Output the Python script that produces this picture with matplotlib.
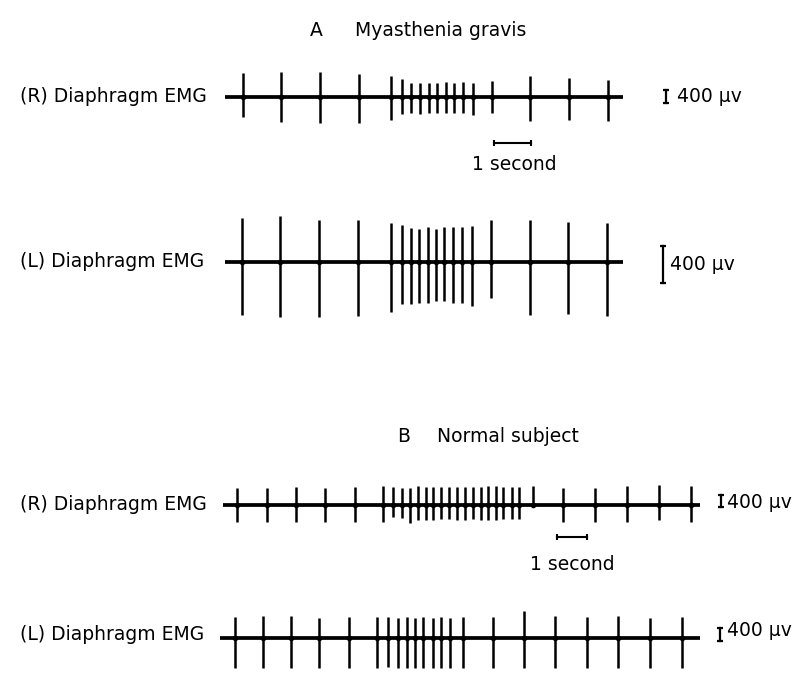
import matplotlib
matplotlib.use("Agg")
import matplotlib.pyplot as plt

# -------------------------------
# DATA (spike times in s, deflections in microvolts)
# -------------------------------
a_r_times = [0.48, 1.51, 2.57, 3.63, 4.49, 4.79, 5.03, 5.27, 5.51, 5.74, 5.97, 6.19,
             6.42, 6.69, 7.21, 8.24, 9.31, 10.34]
a_r_up = [740, 770, 770, 700, 640, 535, 410, 410, 410, 430, 465, 410, 465, 410, 495,
          640, 565, 515]
a_r_down = [620, 770, 820, 800, 720, 535, 515, 535, 495, 495, 515, 495, 515, 565, 515,
            740, 720, 750]

a_l_times = [0.45, 1.49, 2.54, 3.60, 4.48, 4.78, 5.02, 5.25, 5.49, 5.70, 5.93, 6.17,
             6.41, 6.68, 7.18, 8.24, 9.28, 10.33]
a_l_up = [470, 495, 450, 450, 420, 395, 360, 350, 370, 350, 380, 370, 380, 385, 450,
          455, 430, 420]
a_l_down = [575, 595, 595, 585, 540, 455, 455, 450, 445, 430, 430, 445, 450, 480, 395,
            575, 560, 585]

b_r_times = [0.46, 1.46, 2.43, 3.40, 4.40, 5.34, 5.68, 5.96, 6.23, 6.51, 6.76, 7.01,
             7.27, 7.54, 7.79, 8.07, 8.32, 8.59, 8.84, 9.10, 9.34, 9.62, 9.87, 10.34,
             11.34, 12.40, 13.46, 14.54, 15.60]
b_r_up = [555, 575, 610, 575, 610, 645, 610, 575, 555, 645, 610, 610, 610, 610, 610,
          610, 610, 610, 645, 645, 610, 610, 610, 645, 555, 555, 645, 665, 645]
b_r_down = [555, 555, 575, 575, 575, 575, 390, 445, 610, 500, 500, 500, 465, 465, 500,
            500, 465, 500, 500, 500, 465, 465, 465, 60, 555, 555, 555, 500, 555]

b_l_times = [0.50, 1.42, 2.37, 3.31, 4.31, 5.24, 5.61, 5.92, 6.22, 6.50, 6.78, 7.09,
             7.37, 7.67, 8.09, 9.11, 10.13, 11.17, 12.22, 13.28, 14.33, 15.39]
b_l_up = [650, 690, 690, 620, 670, 670, 670, 640, 650, 640, 650, 640, 650, 640, 650,
          670, 825, 690, 650, 690, 620, 670]
b_l_down = [920, 920, 920, 920, 920, 920, 880, 900, 900, 900, 900, 900, 900, 900, 920,
            920, 900, 920, 920, 920, 920, 920]

scale_uv = 400
scale_s = 1

# -------------------------------
# FIGURE SETUP (pixel layout)
# -------------------------------
W, H = 795, 673
fig = plt.figure(figsize=(7.95, 6.73), dpi=100)
plt.rcParams['font.family'] = ['DejaVu Sans']
FS = 13.5


def fx(px):
    return px / W


def fy(py):
    return 1 - py / H


def trace_axes(x0, y_base, px_per_s, uv_per_px, t_end, half=70):
    ax = fig.add_axes([fx(x0), fy(y_base + half), t_end * px_per_s / W, 2 * half / H])
    ax.set_xlim(0, t_end)
    ax.set_ylim(-half * uv_per_px, half * uv_per_px)
    ax.axis("off")
    return ax


def draw_trace(ax, times, up, down, t_end):
    ax.plot([0, t_end], [0, 0], color="black", lw=2.7, solid_capstyle="round")
    ax.vlines(times, [-d for d in down], up, color="black", lw=1.8)
    # slight thickening where each spike crosses the baseline
    ax.plot(times, [0] * len(times), "o", color="black", markersize=3)


def scale_bar(ax, t, bottom):
    ax.plot([t, t], [bottom, bottom + scale_uv], color="black", lw=1.6, clip_on=False,
            marker="_", markersize=5, markeredgewidth=1.6)


def time_bar(ax, t, y):
    ax.plot([t, t + scale_s], [y, y], color="black", lw=1.5, clip_on=False,
            marker="|", markersize=4, markeredgewidth=1.5)


# -------------------------------
# PANEL A
# -------------------------------
fig.text(fx(310), fy(30), "A", fontsize=FS, va="center")
fig.text(fx(355), fy(30), "Myasthenia gravis", fontsize=FS, va="center")

ax = trace_axes(225, 96.7, 37, 400 / 13, 10.76)
draw_trace(ax, a_r_times, a_r_up, a_r_down, 10.76)
scale_bar(ax, 11.92, -200)
time_bar(ax, 7.27, -1417)
fig.text(fx(20), fy(97), "(R) Diaphragm EMG", fontsize=FS, va="center")
fig.text(fx(677), fy(97), "400 μv", fontsize=FS, va="center")
fig.text(fx(514), fy(165), "1 second", fontsize=FS, va="center", ha="center")

ax = trace_axes(225, 261.7, 37, 400 / 37, 10.76)
draw_trace(ax, a_l_times, a_l_up, a_l_down, 10.76)
scale_bar(ax, 11.84, -230)
fig.text(fx(20), fy(262), "(L) Diaphragm EMG", fontsize=FS, va="center")
fig.text(fx(670), fy(265), "400 μv", fontsize=FS, va="center")

# -------------------------------
# PANEL B
# -------------------------------
fig.text(fx(397), fy(437), "B", fontsize=FS, va="center")
fig.text(fx(437), fy(437), "Normal subject", fontsize=FS, va="center")

ax = trace_axes(223, 505, 30, 400 / 12, 15.9)
draw_trace(ax, b_r_times, b_r_up, b_r_down, 15.9)
scale_bar(ax, 16.6, -67)
time_bar(ax, 11.13, -1066)
fig.text(fx(20), fy(505), "(R) Diaphragm EMG", fontsize=FS, va="center")
fig.text(fx(727), fy(502), "400 μv", fontsize=FS, va="center")
fig.text(fx(572), fy(565), "1 second", fontsize=FS, va="center", ha="center")

ax = trace_axes(220, 638.3, 30, 400 / 13, 16.0)
draw_trace(ax, b_l_times, b_l_up, b_l_down, 16.0)
scale_bar(ax, 16.67, -70)
fig.text(fx(20), fy(634), "(L) Diaphragm EMG", fontsize=FS, va="center")
fig.text(fx(727), fy(630), "400 μv", fontsize=FS, va="center")

plt.savefig("out.png", dpi=100)
plt.close()
